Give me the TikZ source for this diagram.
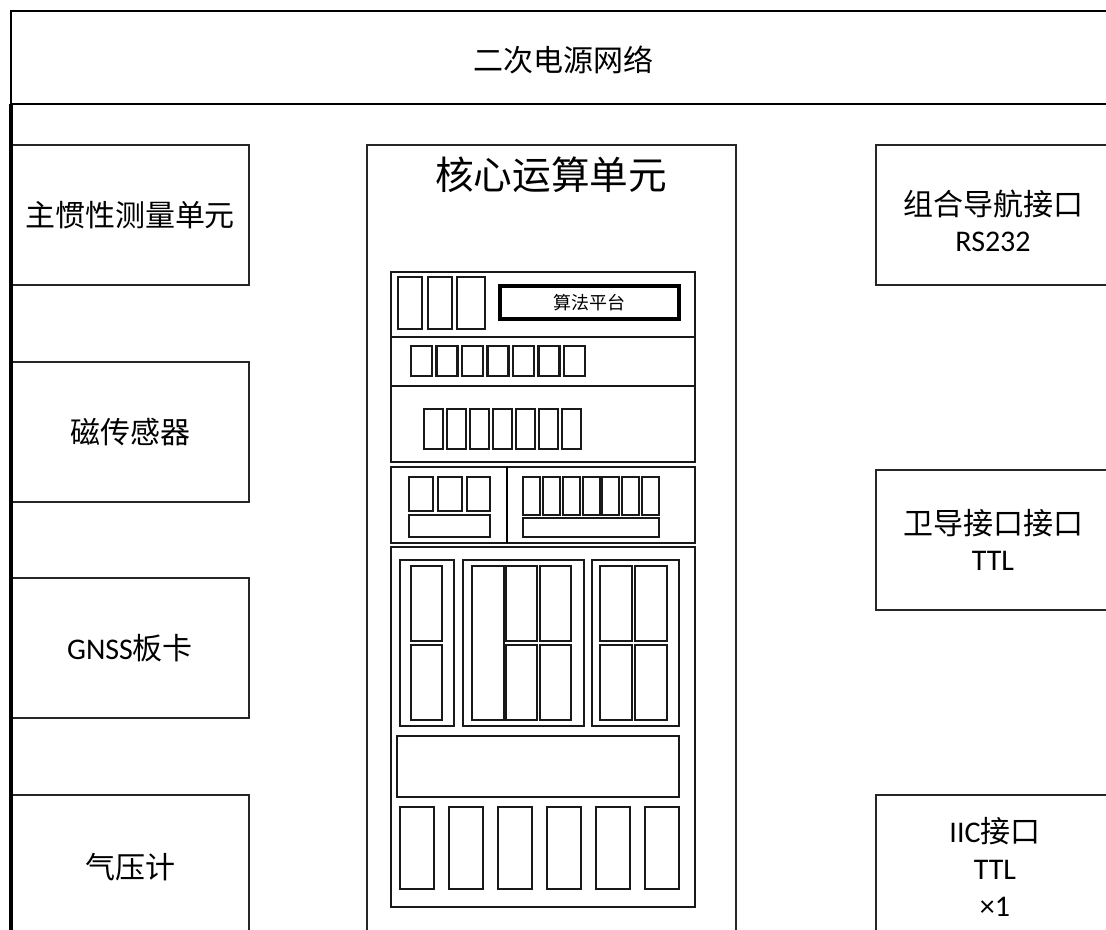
\documentclass[tikz,border=0pt]{standalone}
\usepackage{fontspec}
\setmainfont{Carlito}
\newfontfamily\cjk{Noto Sans CJK SC}
\usetikzlibrary{fit}
\tikzset{
  outerbox/.style={draw=black!85, line width=1.5pt, inner sep=0pt, fill=white},
  bigtext/.style={font=\fontsize{22.5}{27.5}\selectfont, align=center},
  rowbox/.style={draw=black!90, line width=1.6pt, inner sep=0pt},
  cell/.style={draw=black!90, line width=1.9pt, inner sep=0pt},
  algbox/.style={draw=black, line width=3pt, inner sep=0pt},
}
\begin{document}
\begin{tikzpicture}[x=0.75pt,y=-0.75pt]
\useasboundingbox (0,0) rectangle (1106,930);
\clip (0,0) rectangle (1106,930);
% frame
\coordinate (fbl) at (11,940);
\coordinate (ftl) at (11,11);
\coordinate (ftr) at (1120,11);
\coordinate (pl) at (11,104);
\coordinate (pr) at (1120,104);
\draw[line width=1.8pt, line join=miter] (fbl) -- (ftl) -- (ftr);
\draw[line width=1.5pt] (pl) -- (pr);
\node[bigtext] (power) at (563,60) {\cjk 二次电源网络};
% left boxes
\node[outerbox, fit={(11,145)(249,285)}] (imu) {};
\node[bigtext] at (imu.center) {\cjk 主惯性测量单元};
\node[outerbox, fit={(11,362)(249,502)}] (mag) {};
\node[bigtext] at (mag.center) {\cjk 磁传感器};
\node[outerbox, fit={(11,578)(249,718)}] (gnss) {};
\node[bigtext] at (gnss.center) {GNSS{\cjk 板卡}};
\node[outerbox, fit={(11,795)(249,940)}] (baro) {};
\node[bigtext] (barot) at (130,867) {\cjk 气压计};
\draw[line width=3pt] (fbl) -- (ftl |- pl);
% right boxes
\node[outerbox, fit={(876,145)(1120,285)}] (nav) {};
\node[bigtext] (navt) at (993,221) {{\cjk 组合导航接口}\\RS232};
\node[outerbox, fit={(876,470)(1120,610)}] (sat) {};
\node[bigtext] (satt) at (993,540) {{\cjk 卫导接口接口}\\TTL};
\node[outerbox, fit={(876,795)(1120,940)}] (iic) {};
\node[bigtext] (iict) at (995,867) {IIC{\cjk 接口}\\TTL\\×1};
% core box
\node[outerbox, fit={(367,145)(736,940)}] (core) {};
\node[font=\fontsize{29}{32}\selectfont] (coret) at (551,175) {\cjk 核心运算单元};
% inner rows
\node[rowbox, fit={(391,272)(695,337)}] (r1) {};
\node[rowbox, fit={(391,337)(695,386)}] (r2) {};
\node[rowbox, fit={(391,386)(695,462)}] (r3) {};
\node[rowbox, fit={(391,467)(695,543)}] (r4) {};
\node[rowbox, fit={(391,547)(695,907)}] (r5) {};
% row 1
\node[cell, fit={(398,277)(422,329)}] (a1) {};
\node[cell, fit={(428,277)(452,329)}] (a2) {};
\node[cell, fit={(457,277)(485,329)}] (a3) {};
\node[algbox, fit={(500,286)(679,319)}] (alg) {};
\node[font=\fontsize{13.5}{15}\selectfont] at (alg.center) {\cjk 算法平台};
% row 2
\foreach \i/\x in {1/411,2/436.5,3/462,4/487.5,5/513,6/538.5,7/564}{
  \node[cell, fit={(\x,346)(\x+21,376)}] (b\i) {};
}
% row 3
\foreach \i/\x in {1/424,2/447,3/470,4/493,5/516,6/539,7/562}{
  \node[cell, fit={(\x,409)(\x+19,449)}] (c\i) {};
}
% row 4
\coordinate (s1) at (507,467);
\coordinate (s2) at (507,543);
\draw[line width=1.6pt] (s1) -- (s2);
\node[cell, fit={(409,477)(433,511)}] (d1) {};
\node[cell, fit={(438,477)(462,511)}] (d2) {};
\node[cell, fit={(467,477)(490,511)}] (d3) {};
\node[cell, fit={(409,515)(490,537)}] (d4) {};
\foreach \i/\x in {1/523,2/543,3/563,4/583,5/602,6/622,7/642}{
  \node[cell, fit={(\x,477)(\x+17,515)}] (e\i) {};
}
\node[cell, fit={(523,518)(659,537)}] (e8) {};
% row 5 groups
\node[cell, fit={(400,560)(454,726)}] (gA) {};
\node[cell, fit={(411,566)(442,641)}] (gA1) {};
\node[cell, fit={(411,645)(442,720)}] (gA2) {};
\node[cell, fit={(463,560)(584,726)}] (gB) {};
\node[cell, fit={(472,566)(504,720)}] (gB0) {};
\node[cell, fit={(506,566)(537,641)}] (gB1) {};
\node[cell, fit={(540,566)(571,641)}] (gB2) {};
\node[cell, fit={(506,645)(537,720)}] (gB3) {};
\node[cell, fit={(540,645)(571,720)}] (gB4) {};
\node[cell, fit={(592,560)(679,726)}] (gC) {};
\node[cell, fit={(600,566)(632,641)}] (gC1) {};
\node[cell, fit={(635,566)(667,641)}] (gC2) {};
\node[cell, fit={(600,645)(632,720)}] (gC3) {};
\node[cell, fit={(635,645)(667,720)}] (gC4) {};
\node[cell, fit={(397,736)(679,797)}] (wide) {};
\foreach \i/\x in {1/400,2/449,3/498,4/547,5/596,6/645}{
  \node[cell, fit={(\x,807)(\x+34,889)}] (f\i) {};
}
\end{tikzpicture}
\end{document}
